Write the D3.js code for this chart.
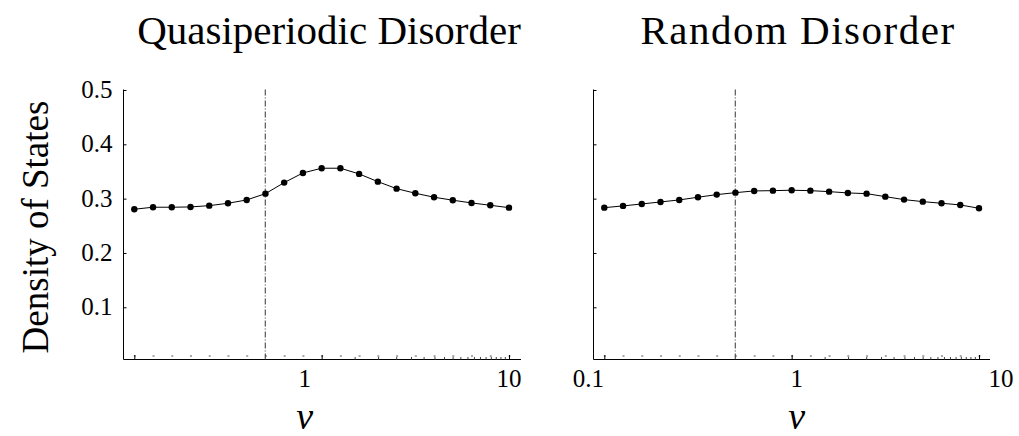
<!DOCTYPE html>
<html>
<head>
<meta charset="utf-8">
<script src="https://cdn.jsdelivr.net/npm/d3@7"></script>
<style>
  html, body { margin: 0; padding: 0; background: #fff; }
  svg { display: block; }
  text { font-family: "Liberation Serif", "Times New Roman", serif; fill: #000; }
</style>
</head>
<body>
<svg id="chart" width="1019" height="436"></svg>
<script>
// Coupling values nu: ten samples per decade from 0.1 to 10
const nuValues = d3.range(21).map(i => Math.pow(10, (i - 10) / 10));

// Density of states for each disorder type
const quasiperiodicDOS = [0.2805, 0.2842, 0.2842, 0.2847, 0.2871, 0.2915, 0.2976, 0.3092,
  0.3295, 0.3473, 0.3560, 0.3560, 0.3455, 0.3313, 0.3184, 0.3099, 0.3026, 0.2971,
  0.2921, 0.2878, 0.2834];
const randomDOS = [0.2834, 0.2866, 0.2902, 0.2939, 0.2976, 0.3026, 0.3074, 0.3110,
  0.3142, 0.3147, 0.3155, 0.3147, 0.3129, 0.3105, 0.3092, 0.3037, 0.2982, 0.2945,
  0.2915, 0.2884, 0.2823];

// Critical coupling marked by the dash-dot line
const criticalNu = 0.5;

const panelTitles = ["Quasiperiodic Disorder", "Random Disorder"];
const yTickValues = [0.1, 0.2, 0.3, 0.4, 0.5];
const xMajorTicks = [0.1, 1, 10];
const xLabelTicks = [[1, 10], [0.1, 1, 10]];
// minor ticks in the upper decade
const xMinorTicks = d3.range(1.5, 10, 0.5);

const svg = d3.select("#chart");

const panels = [
  { x0: 134.3, x1: 509.0, axisLeft: 123.5, axisRight: 521, data: quasiperiodicDOS,
    yLabels: true, titleX: 329, titleSpacing: 0, labelNudge: { 1: -17, 10: 0 } },
  { x0: 604.3, x1: 979.0, axisLeft: 593.5, axisRight: 990, data: randomDOS,
    yLabels: false, titleX: 798, titleSpacing: 1.5, labelNudge: { 0.1: -16, 1: 5, 10: 22 } }
];

const yTop = 89.5, yAxisY = 359.5;
const y = d3.scaleLinear().domain([0, 0.5]).range([361.6, 90]);

panels.forEach((p, k) => {
  const x = d3.scaleLog().domain([0.1, 10]).range([p.x0, p.x1]);
  const g = svg.append("g");

  // title
  g.append("text")
    .attr("x", p.titleX).attr("y", 44)
    .attr("text-anchor", "middle")
    .style("font-size", "41px")
    .style("letter-spacing", p.titleSpacing + "px")
    .text(panelTitles[k]);

  // frame axes
  g.append("line")
    .attr("x1", p.axisLeft).attr("x2", p.axisLeft)
    .attr("y1", yTop).attr("y2", yAxisY)
    .attr("stroke", "#000").attr("stroke-width", 1);
  g.append("line")
    .attr("x1", p.axisLeft).attr("x2", p.axisRight)
    .attr("y1", yAxisY).attr("y2", yAxisY)
    .attr("stroke", "#000").attr("stroke-width", 1.2);

  // y ticks (inward)
  const yAxis = d3.axisRight(y).tickValues(yTickValues).tickSize(3).tickFormat("");
  const ya = g.append("g").attr("transform", `translate(${p.axisLeft},0)`).call(yAxis);
  ya.select(".domain").remove();
  ya.selectAll("line").attr("stroke", "#000");
  if (p.yLabels) {
    yTickValues.forEach(v => {
      g.append("text")
        .attr("x", p.axisLeft - 11).attr("y", y(v) + 8)
        .attr("text-anchor", "end")
        .style("font-size", "25px")
        .text(d3.format(".1f")(v));
    });
  }

  // x ticks: data-point marks, minor and major ticks drawn upward
  const xa = g.append("g").attr("transform", `translate(0,${yAxisY})`);
  xa.call(d3.axisTop(x).tickValues(nuValues).tickSize(0).tickFormat(""));
  xa.select(".domain").remove();
  xa.selectAll(".tick").append("line")
    .attr("x1", -1).attr("x2", 1).attr("y1", -3.5).attr("y2", -3.5)
    .attr("stroke", "#555").attr("stroke-width", 1);
  const xm = g.append("g").attr("transform", `translate(0,${yAxisY})`)
    .call(d3.axisTop(x).tickValues(xMinorTicks).tickSize(2.5).tickFormat(""));
  xm.select(".domain").remove();
  xm.selectAll("line").attr("stroke", "#444");
  const xM = g.append("g").attr("transform", `translate(0,${yAxisY})`)
    .call(d3.axisTop(x).tickValues(xMajorTicks).tickSize(4.5).tickFormat(""));
  xM.select(".domain").remove();
  xM.selectAll("line").attr("stroke", "#000");

  // x tick labels
  xLabelTicks[k].forEach(v => {
    g.append("text")
      .attr("x", x(v) + (p.labelNudge[v] || 0)).attr("y", 387)
      .attr("text-anchor", "middle")
      .style("font-size", "25px")
      .text(v === 0.1 ? "0.1" : String(v));
  });

  // x axis title
  g.append("text")
    .attr("x", x(1) + (k === 0 ? -17 : 5)).attr("y", 429)
    .attr("text-anchor", "middle")
    .style("font-size", "38px").style("font-style", "italic")
    .text("ν");

  // critical coupling line
  g.append("line")
    .attr("x1", x(criticalNu)).attr("x2", x(criticalNu))
    .attr("y1", yTop).attr("y2", yAxisY)
    .attr("stroke", "#333").attr("stroke-width", 1)
    .attr("stroke-dasharray", "6,2,1,2");

  // data curve and points
  const pts = nuValues.map((v, i) => [v, p.data[i]]);
  g.append("path")
    .datum(pts)
    .attr("fill", "none").attr("stroke", "#000").attr("stroke-width", 1)
    .attr("d", d3.line().x(d => x(d[0])).y(d => y(d[1])));
  g.selectAll("circle.pt").data(pts).enter().append("circle")
    .attr("class", "pt")
    .attr("cx", d => x(d[0])).attr("cy", d => y(d[1]))
    .attr("r", 3.2).attr("fill", "#000");
});

// shared y-axis title
svg.append("text")
  .attr("transform", "translate(48,227) rotate(-90)")
  .attr("text-anchor", "middle")
  .style("font-size", "37px")
  .text("Density of States");
</script>
</body>
</html>
